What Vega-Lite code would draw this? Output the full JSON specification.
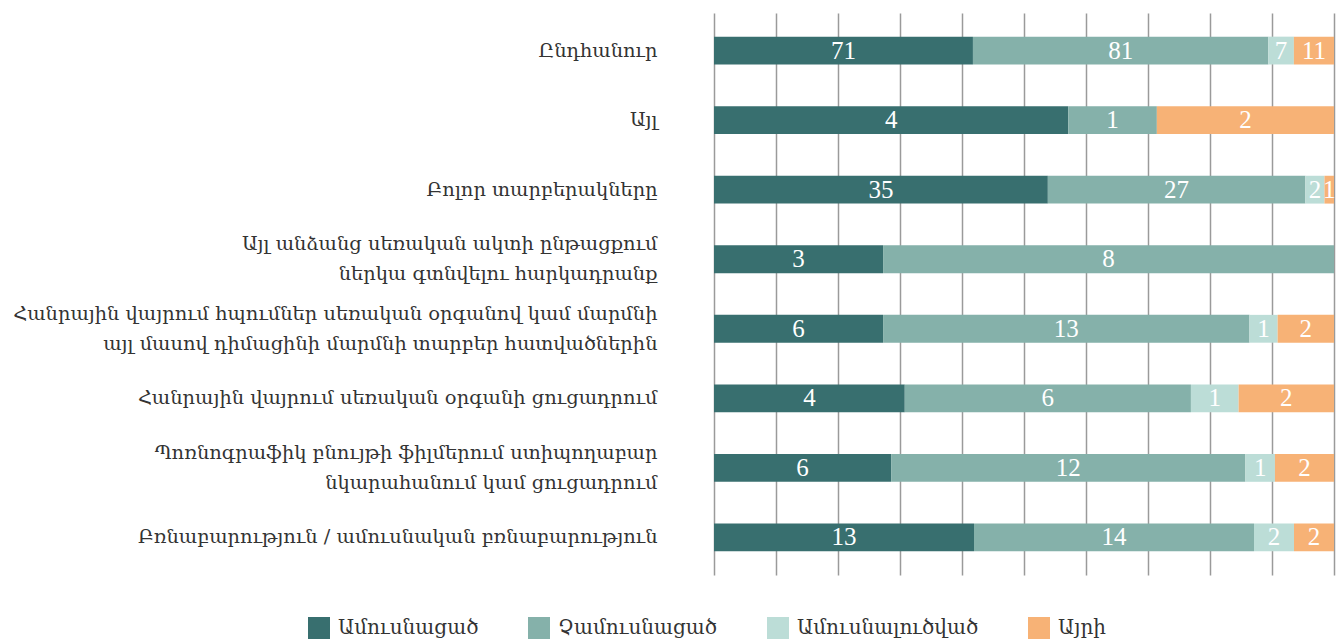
{
  "$schema": "https://vega.github.io/schema/vega-lite/v6.json",
  "width": 620,
  "height": 562,
  "autosize": {"type": "none"},
  "padding": {"left": 714, "top": 13, "right": 6, "bottom": 66},
  "background": "white",
  "config": {"view": {"stroke": null}, "font": "Liberation Serif, DejaVu Serif"},
  "data": {"values": [
    {"c": "Ընդհանուր", "s": "Ամուսնացած", "o": 1, "v": 71},
    {"c": "Ընդհանուր", "s": "Չամուսնացած", "o": 2, "v": 81},
    {"c": "Ընդհանուր", "s": "Ամուսնալուծված", "o": 3, "v": 7},
    {"c": "Ընդհանուր", "s": "Այրի", "o": 4, "v": 11},
    {"c": "Այլ", "s": "Ամուսնացած", "o": 1, "v": 4},
    {"c": "Այլ", "s": "Չամուսնացած", "o": 2, "v": 1},
    {"c": "Այլ", "s": "Այրի", "o": 4, "v": 2},
    {"c": "Բոլոր տարբերակները", "s": "Ամուսնացած", "o": 1, "v": 35},
    {"c": "Բոլոր տարբերակները", "s": "Չամուսնացած", "o": 2, "v": 27},
    {"c": "Բոլոր տարբերակները", "s": "Ամուսնալուծված", "o": 3, "v": 2},
    {"c": "Բոլոր տարբերակները", "s": "Այրի", "o": 4, "v": 1},
    {"c": "Այլ անձանց սեռական ակտի ընթացքում|ներկա գտնվելու հարկադրանք", "s": "Ամուսնացած", "o": 1, "v": 3},
    {"c": "Այլ անձանց սեռական ակտի ընթացքում|ներկա գտնվելու հարկադրանք", "s": "Չամուսնացած", "o": 2, "v": 8},
    {"c": "Հանրային վայրում հպումներ սեռական օրգանով կամ մարմնի|այլ մասով դիմացինի մարմնի տարբեր հատվածներին", "s": "Ամուսնացած", "o": 1, "v": 6},
    {"c": "Հանրային վայրում հպումներ սեռական օրգանով կամ մարմնի|այլ մասով դիմացինի մարմնի տարբեր հատվածներին", "s": "Չամուսնացած", "o": 2, "v": 13},
    {"c": "Հանրային վայրում հպումներ սեռական օրգանով կամ մարմնի|այլ մասով դիմացինի մարմնի տարբեր հատվածներին", "s": "Ամուսնալուծված", "o": 3, "v": 1},
    {"c": "Հանրային վայրում հպումներ սեռական օրգանով կամ մարմնի|այլ մասով դիմացինի մարմնի տարբեր հատվածներին", "s": "Այրի", "o": 4, "v": 2},
    {"c": "Հանրային վայրում սեռական օրգանի ցուցադրում", "s": "Ամուսնացած", "o": 1, "v": 4},
    {"c": "Հանրային վայրում սեռական օրգանի ցուցադրում", "s": "Չամուսնացած", "o": 2, "v": 6},
    {"c": "Հանրային վայրում սեռական օրգանի ցուցադրում", "s": "Ամուսնալուծված", "o": 3, "v": 1},
    {"c": "Հանրային վայրում սեռական օրգանի ցուցադրում", "s": "Այրի", "o": 4, "v": 2},
    {"c": "Պոռնոգրաֆիկ բնույթի ֆիլմերում ստիպողաբար|նկարահանում կամ ցուցադրում", "s": "Ամուսնացած", "o": 1, "v": 6},
    {"c": "Պոռնոգրաֆիկ բնույթի ֆիլմերում ստիպողաբար|նկարահանում կամ ցուցադրում", "s": "Չամուսնացած", "o": 2, "v": 12},
    {"c": "Պոռնոգրաֆիկ բնույթի ֆիլմերում ստիպողաբար|նկարահանում կամ ցուցադրում", "s": "Ամուսնալուծված", "o": 3, "v": 1},
    {"c": "Պոռնոգրաֆիկ բնույթի ֆիլմերում ստիպողաբար|նկարահանում կամ ցուցադրում", "s": "Այրի", "o": 4, "v": 2},
    {"c": "Բռնաբարություն / ամուսնական բռնաբարություն", "s": "Ամուսնացած", "o": 1, "v": 13},
    {"c": "Բռնաբարություն / ամուսնական բռնաբարություն", "s": "Չամուսնացած", "o": 2, "v": 14},
    {"c": "Բռնաբարություն / ամուսնական բռնաբարություն", "s": "Ամուսնալուծված", "o": 3, "v": 2},
    {"c": "Բռնաբարություն / ամուսնական բռնաբարություն", "s": "Այրի", "o": 4, "v": 2}
  ]},
  "encoding": {
    "y": {
      "field": "c", "type": "nominal", "sort": null,
      "scale": {"paddingInner": 0.6, "paddingOuter": 0.34},
      "axis": {
        "title": null, "domain": false, "ticks": false, "labelPadding": 57,
        "labelFontSize": 19.4, "labelFont": "DejaVu Serif", "labelColor": "#333333",
        "labelExpr": "split(datum.label, '|')", "labelLineHeight": 30, "labelLimit": 800,
        "labelOffset": {"condition": {"test": "indexof(datum.label, '|') >= 0", "value": -15}, "value": 0}
      }
    },
    "x": {
      "field": "v", "type": "quantitative", "stack": "normalize",
      "scale": {"domain": [0, 1]},
      "axis": {
        "title": null, "labels": false, "ticks": false, "domain": false,
        "grid": true, "gridColor": "#9a9a9a", "gridWidth": 1.5,
        "values": [0, 0.1, 0.2, 0.3, 0.4, 0.5, 0.6, 0.7, 0.8, 0.9, 1]
      }
    }
  },
  "layer": [
    {
      "mark": {"type": "bar"},
      "encoding": {
        "color": {
          "field": "s", "type": "nominal",
          "scale": {
            "domain": ["Ամուսնացած", "Չամուսնացած", "Ամուսնալուծված", "Այրի"],
            "range": ["#386f6f", "#85b1aa", "#bcddd7", "#f7b276"]
          },
          "legend": {
            "title": null, "orient": "none", "legendX": -406, "legendY": 604,
            "direction": "horizontal", "symbolType": "square", "symbolSize": 484,
            "symbolStrokeWidth": 0, "labelFontSize": 20, "labelFont": "DejaVu Serif",
            "labelColor": "#333333", "labelOffset": 8, "columnPadding": 49, "labelLimit": 400
          }
        },
        "order": {"field": "o"}
      }
    },
    {
      "mark": {"type": "text", "color": "white", "fontSize": 25, "baseline": "middle", "align": "center", "font": "Liberation Serif"},
      "encoding": {
        "x": {"field": "v", "type": "quantitative", "stack": "normalize", "bandPosition": 0.5},
        "text": {"field": "v"},
        "detail": {"field": "s"},
        "order": {"field": "o"}
      }
    }
  ]
}
